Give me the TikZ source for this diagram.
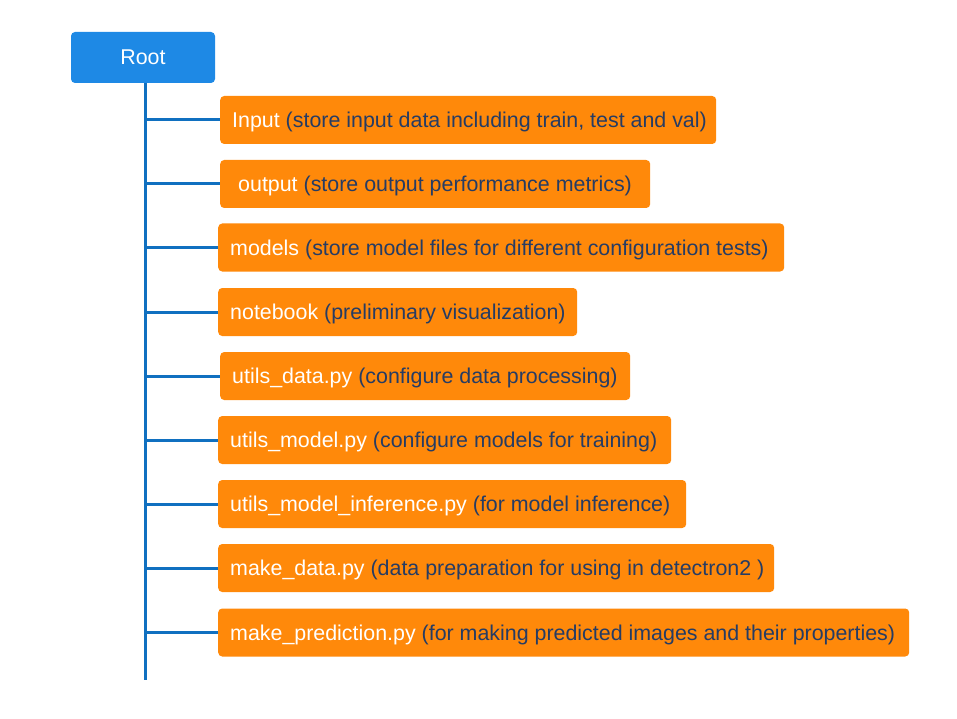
\documentclass[tikz,border=0pt]{standalone}
\usepackage{fontspec}
\setmainfont{Liberation Sans}
\definecolor{rootblue}{RGB}{30,137,229}
\definecolor{linkblue}{RGB}{16,112,192}
\definecolor{boxorange}{RGB}{255,137,10}
\definecolor{desc}{RGB}{38,60,100}
\newcommand{\itemtext}[3]{\raisebox{-7.5pt}[0pt][0pt]{\makebox[#1][l]{#2 \textcolor{desc}{#3}}}}
\begin{document}
\begin{tikzpicture}[x=1pt,y=-1pt,
  rootbox/.style={fill=rootblue,rounded corners=4pt,text=white,minimum width=144pt,minimum height=51pt,inner sep=0pt,font=\fontsize{21.4}{24}\selectfont},
  itembox/.style={fill=boxorange,rounded corners=4pt,anchor=west,minimum height=48pt,inner xsep=12pt,inner ysep=0pt,text=white,font=\fontsize{21.4}{24}\selectfont},
  link/.style={draw=linkblue,line width=3pt}]
\useasboundingbox (0,0) rectangle (957,719);
\node[rootbox] (root) at (143,57.5) {\raisebox{-7.5pt}[0pt][0pt]{Root}};
\coordinate (trunkbot) at (145,680);
\coordinate (trunktop) at (145,83);
\draw[link] (trunktop) -- (trunkbot);
\node[itembox] (b1) at (220,120) {\itemtext{472pt}{Input}{(store input data including train, test and val)}};
\node[itembox] (b2) at (220,184) {\itemtext{406pt}{\hspace{6pt}output}{(store output performance metrics)}};
\node[itembox] (b3) at (218,247.5) {\itemtext{542pt}{models}{(store model files for different configuration tests)}};
\node[itembox] (b4) at (218,312) {\itemtext{335pt}{notebook}{(preliminary visualization)}};
\node[itembox] (b5) at (220,376) {\itemtext{386pt}{utils\_data.py}{(configure data processing)}};
\node[itembox] (b6) at (218,440) {\itemtext{429pt}{utils\_model.py}{(configure models for training)}};
\node[itembox] (b7) at (218,504) {\itemtext{444pt}{utils\_model\_inference.py}{(for model inference)}};
\node[itembox] (b8) at (218,568) {\itemtext{532pt}{make\_data.py}{(data preparation for using in detectron2 )}};
\node[itembox] (b9) at (218,632.5) {\itemtext{667pt}{make\_prediction.py}{(for making predicted images and their properties)}};
\foreach \b in {b1,b2,b3,b4,b5,b6,b7,b8,b9}
  \draw[link] (trunktop |- \b.west) -- (\b.west);
\end{tikzpicture}
\end{document}
